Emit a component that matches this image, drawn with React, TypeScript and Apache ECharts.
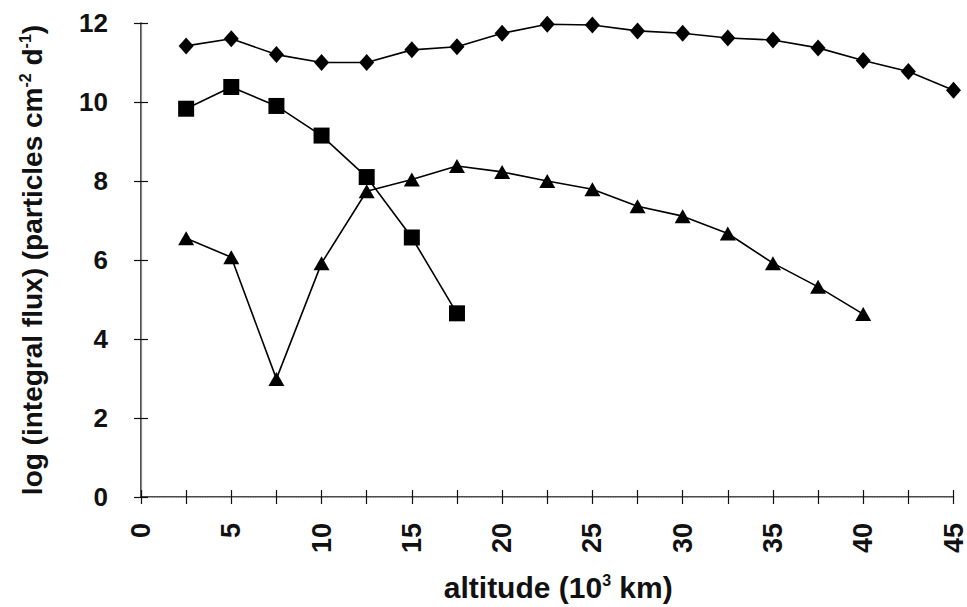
import React, { useEffect, useRef } from "react";
import * as echarts from "echarts";

const altitudes = [2.5, 5, 7.5, 10, 12.5, 15, 17.5, 20, 22.5, 25, 27.5, 30, 32.5, 35, 37.5, 40, 42.5, 45];
const diamondValues = [11.42, 11.6, 11.2, 11.0, 11.0, 11.32, 11.4, 11.74, 11.97, 11.95, 11.8, 11.74, 11.62, 11.57, 11.37, 11.05, 10.77, 10.3];
const squareValues = [9.83, 10.38, 9.9, 9.15, 8.1, 6.57, 4.65];
const triangleValues = [6.55, 6.07, 2.99, 5.92, 7.74, 8.04, 8.38, 8.23, 8.0, 7.79, 7.36, 7.11, 6.67, 5.92, 5.32, 4.63];

const FONT = "Liberation Sans";

const pairs = (vals: number[]) => vals.map((v, i) => [altitudes[i], v]);

export default function App() {
  const ref = useRef<HTMLDivElement>(null);
  useEffect(() => {
    if (!ref.current) return;
    const chart = echarts.init(ref.current, null, { renderer: "svg" });
    const lineCommon = {
      type: "line",
      lineStyle: { color: "#000", width: 1.6 },
      itemStyle: { color: "#000" },
      xAxisIndex: 0,
      yAxisIndex: 0,
    };
    const supStyle = { fontFamily: FONT, fontSize: 16, fontWeight: "bold", color: "#111", verticalAlign: "top", padding: [0, 0, 14, 0] };
    chart.setOption({
      animation: false,
      backgroundColor: "#fff",
      grid: { left: 141, right: 10, top: 23, bottom: 102 },
      xAxis: [
        {
          type: "value",
          min: 0,
          max: 45,
          interval: 2.5,
          splitLine: { show: false },
          axisLine: { lineStyle: { color: "#111", width: 1.5 } },
          axisTick: { show: true, length: 7, lineStyle: { color: "#111", width: 1.2 } },
          axisLabel: {
            rotate: 90,
            margin: 26,
            fontFamily: FONT,
            fontSize: 27,
            fontWeight: "bold",
            color: "#111",
            formatter: (v: number) => (v % 5 === 0 ? String(v) : ""),
          },
          name: "altitude (10{sup|3} km)",
          nameLocation: "middle",
          nameGap: 75,
          nameTextStyle: {
            fontFamily: FONT,
            fontSize: 30,
            fontWeight: "bold",
            color: "#111",
            padding: [0, 0, 0, 22],
            rich: { sup: supStyle },
          },
        },
        {
          type: "value",
          min: 0,
          max: 45,
          interval: 2.5,
          position: "bottom",
          splitLine: { show: false },
          axisLine: { show: false },
          axisTick: { show: true, inside: true, length: 7, lineStyle: { color: "#111", width: 1.2 } },
          axisLabel: { show: false },
        },
        {
          type: "value",
          min: 0,
          max: 45,
          position: "top",
          splitLine: { show: false },
          axisLine: { show: true, lineStyle: { color: "#aaa", width: 1.2, type: "dotted" } },
          axisTick: { show: false },
          axisLabel: { show: false },
        },
      ],
      yAxis: [
        {
          type: "value",
          min: 0,
          max: 12,
          interval: 2,
          splitLine: { show: false },
          axisLine: { show: true, lineStyle: { color: "#111", width: 1.5 } },
          axisTick: { show: true, length: 7, lineStyle: { color: "#111", width: 1.2 } },
          axisLabel: {
            margin: 33,
            fontFamily: FONT,
            fontSize: 26,
            fontWeight: "bold",
            color: "#111",
          },
          name: "log (integral flux) (particles cm{sup|-2} d{sup|-1})",
          nameLocation: "middle",
          nameGap: 94,
          nameRotate: 90,
          nameTextStyle: {
            fontFamily: FONT,
            fontSize: 28,
            fontWeight: "bold",
            color: "#111",
            rich: { sup: supStyle },
          },
        },
        {
          type: "value",
          min: 0,
          max: 12,
          interval: 2,
          position: "left",
          splitLine: { show: false },
          axisLine: { show: false },
          axisTick: { show: true, inside: true, length: 7, lineStyle: { color: "#111", width: 1.2 } },
          axisLabel: { show: false },
        },
        {
          type: "value",
          min: 0,
          max: 12,
          position: "right",
          splitLine: { show: false },
          axisLine: { show: true, lineStyle: { color: "#888", width: 1.2 } },
          axisTick: { show: false },
          axisLabel: { show: false },
        },
      ],
      series: [
        { ...lineCommon, name: "diamond", symbol: "diamond", symbolSize: [15, 17], data: pairs(diamondValues) },
        { ...lineCommon, name: "square", symbol: "rect", symbolSize: 16, data: pairs(squareValues) },
        { ...lineCommon, name: "triangle", symbol: "triangle", symbolSize: [16, 14], data: pairs(triangleValues) },
      ],
    });
    return () => chart.dispose();
  }, []);
  return <div ref={ref} style={{ width: 967, height: 607, position: "absolute", left: 0, top: 0 }} />;
}
